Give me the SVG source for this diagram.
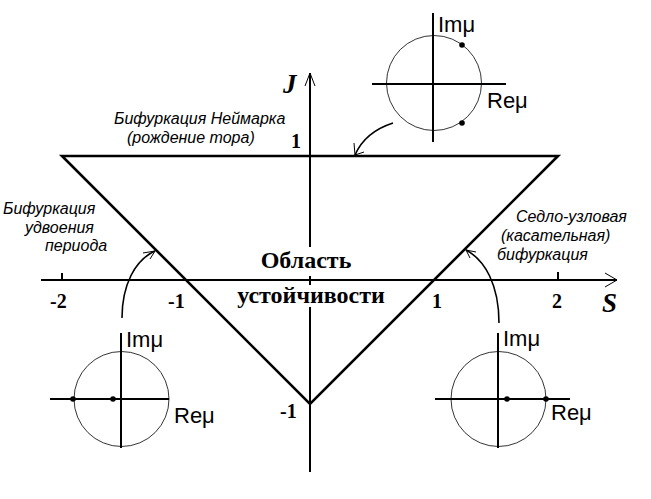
<svg xmlns="http://www.w3.org/2000/svg" width="651" height="499" viewBox="0 0 651 499">
<style>
.ax{stroke:#000;stroke-width:2;fill:none}
.tri{stroke:#000;stroke-width:2.6;fill:none}
.thin{stroke:#000;stroke-width:1;fill:none}
.circ{stroke:#000;stroke-width:0.8;fill:none}
.cur{stroke:#000;stroke-width:1.6;fill:none}
.num{font-family:"Liberation Serif",serif;font-weight:bold;font-size:20px}
.big{font-family:"Liberation Serif",serif;font-weight:bold;font-style:italic;font-size:27px}
.reg{font-family:"Liberation Serif",serif;font-weight:bold;font-size:24px}
.lab{font-family:"Liberation Sans",sans-serif;font-style:italic;font-size:16px}
.mu{font-family:"Liberation Sans",sans-serif;font-size:22px}
</style>
<rect width="651" height="499" fill="#fff"/>
<g id="axes">
<path class="ax" d="M41 280H617"/>
<path class="thin" d="M605 273L617 280L605 287"/>
<path class="ax" d="M310 73V247M310 276V285M310 307V472"/>
<path class="thin" d="M305 86L310 73L315 86"/>
<path class="ax" d="M62 273V280M558 272V280"/>
</g>
<g id="triangle">
<path class="tri" d="M62 156H558L310 404Z"/>
</g>
<g id="labels">
<text class="big" x="283" y="93">J</text>
<text class="big" x="602" y="312">S</text>
<text class="num" x="291" y="148">1</text>
<text class="num" x="280" y="418">-1</text>
<text class="num" x="50" y="308">-2</text>
<text class="num" x="168" y="308">-1</text>
<text class="num" x="432" y="308">1</text>
<text class="num" x="552" y="308">2</text>
<text class="reg" x="306" y="268" text-anchor="middle">Область</text>
<text class="reg" x="311" y="303" text-anchor="middle">устойчивости</text>
<text class="lab" x="114" y="124">Бифуркация Неймарка</text>
<text class="lab" x="127" y="143">(рождение тора)</text>
<text class="lab" x="3" y="214">Бифуркация</text>
<text class="lab" x="25" y="233">удвоения</text>
<text class="lab" x="45" y="251">периода</text>
<text class="lab" x="516" y="222">Седло-узловая</text>
<text class="lab" x="501" y="241">(касательная)</text>
<text class="lab" x="497" y="260">бифуркация</text>
</g>
<g id="plane-top">
<circle class="circ" cx="434" cy="83" r="47.5"/>
<path class="ax" d="M433 13V142M372 84H506"/>
<circle cx="462" cy="45" r="2.8"/>
<circle cx="462" cy="123" r="2.8"/>
<text class="mu" x="438" y="32">Imμ</text>
<text class="mu" x="487" y="108">Reμ</text>
</g>
<g id="plane-left">
<circle class="circ" cx="121.5" cy="399" r="47.5"/>
<path class="ax" d="M121 333V448M50 399H169"/>
<circle cx="73" cy="399" r="2.8"/>
<circle cx="113" cy="399" r="2.8"/>
<text class="mu" x="126" y="347">Imμ</text>
<text class="mu" x="174" y="423">Reμ</text>
</g>
<g id="plane-right">
<circle class="circ" cx="498.5" cy="399" r="47.5"/>
<path class="ax" d="M498 333V448M435 399H570"/>
<circle cx="507" cy="399" r="2.8"/>
<circle cx="546" cy="399" r="2.8"/>
<text class="mu" x="503" y="346">Imμ</text>
<text class="mu" x="551" y="420">Reμ</text>
</g>
<g id="connectors">
<path class="cur" d="M393 123Q365 132 355 155"/>
<path class="thin" d="M354 143L355 155L364 152"/>
<path class="cur" d="M122 318C122 285 135 260 155 251"/>
<path class="thin" d="M143 253L155 251L150 259"/>
<path class="cur" d="M499 323C499 285 485 260 466 250"/>
<path class="thin" d="M476 252L466 250L470 258"/>
</g>
</svg>
